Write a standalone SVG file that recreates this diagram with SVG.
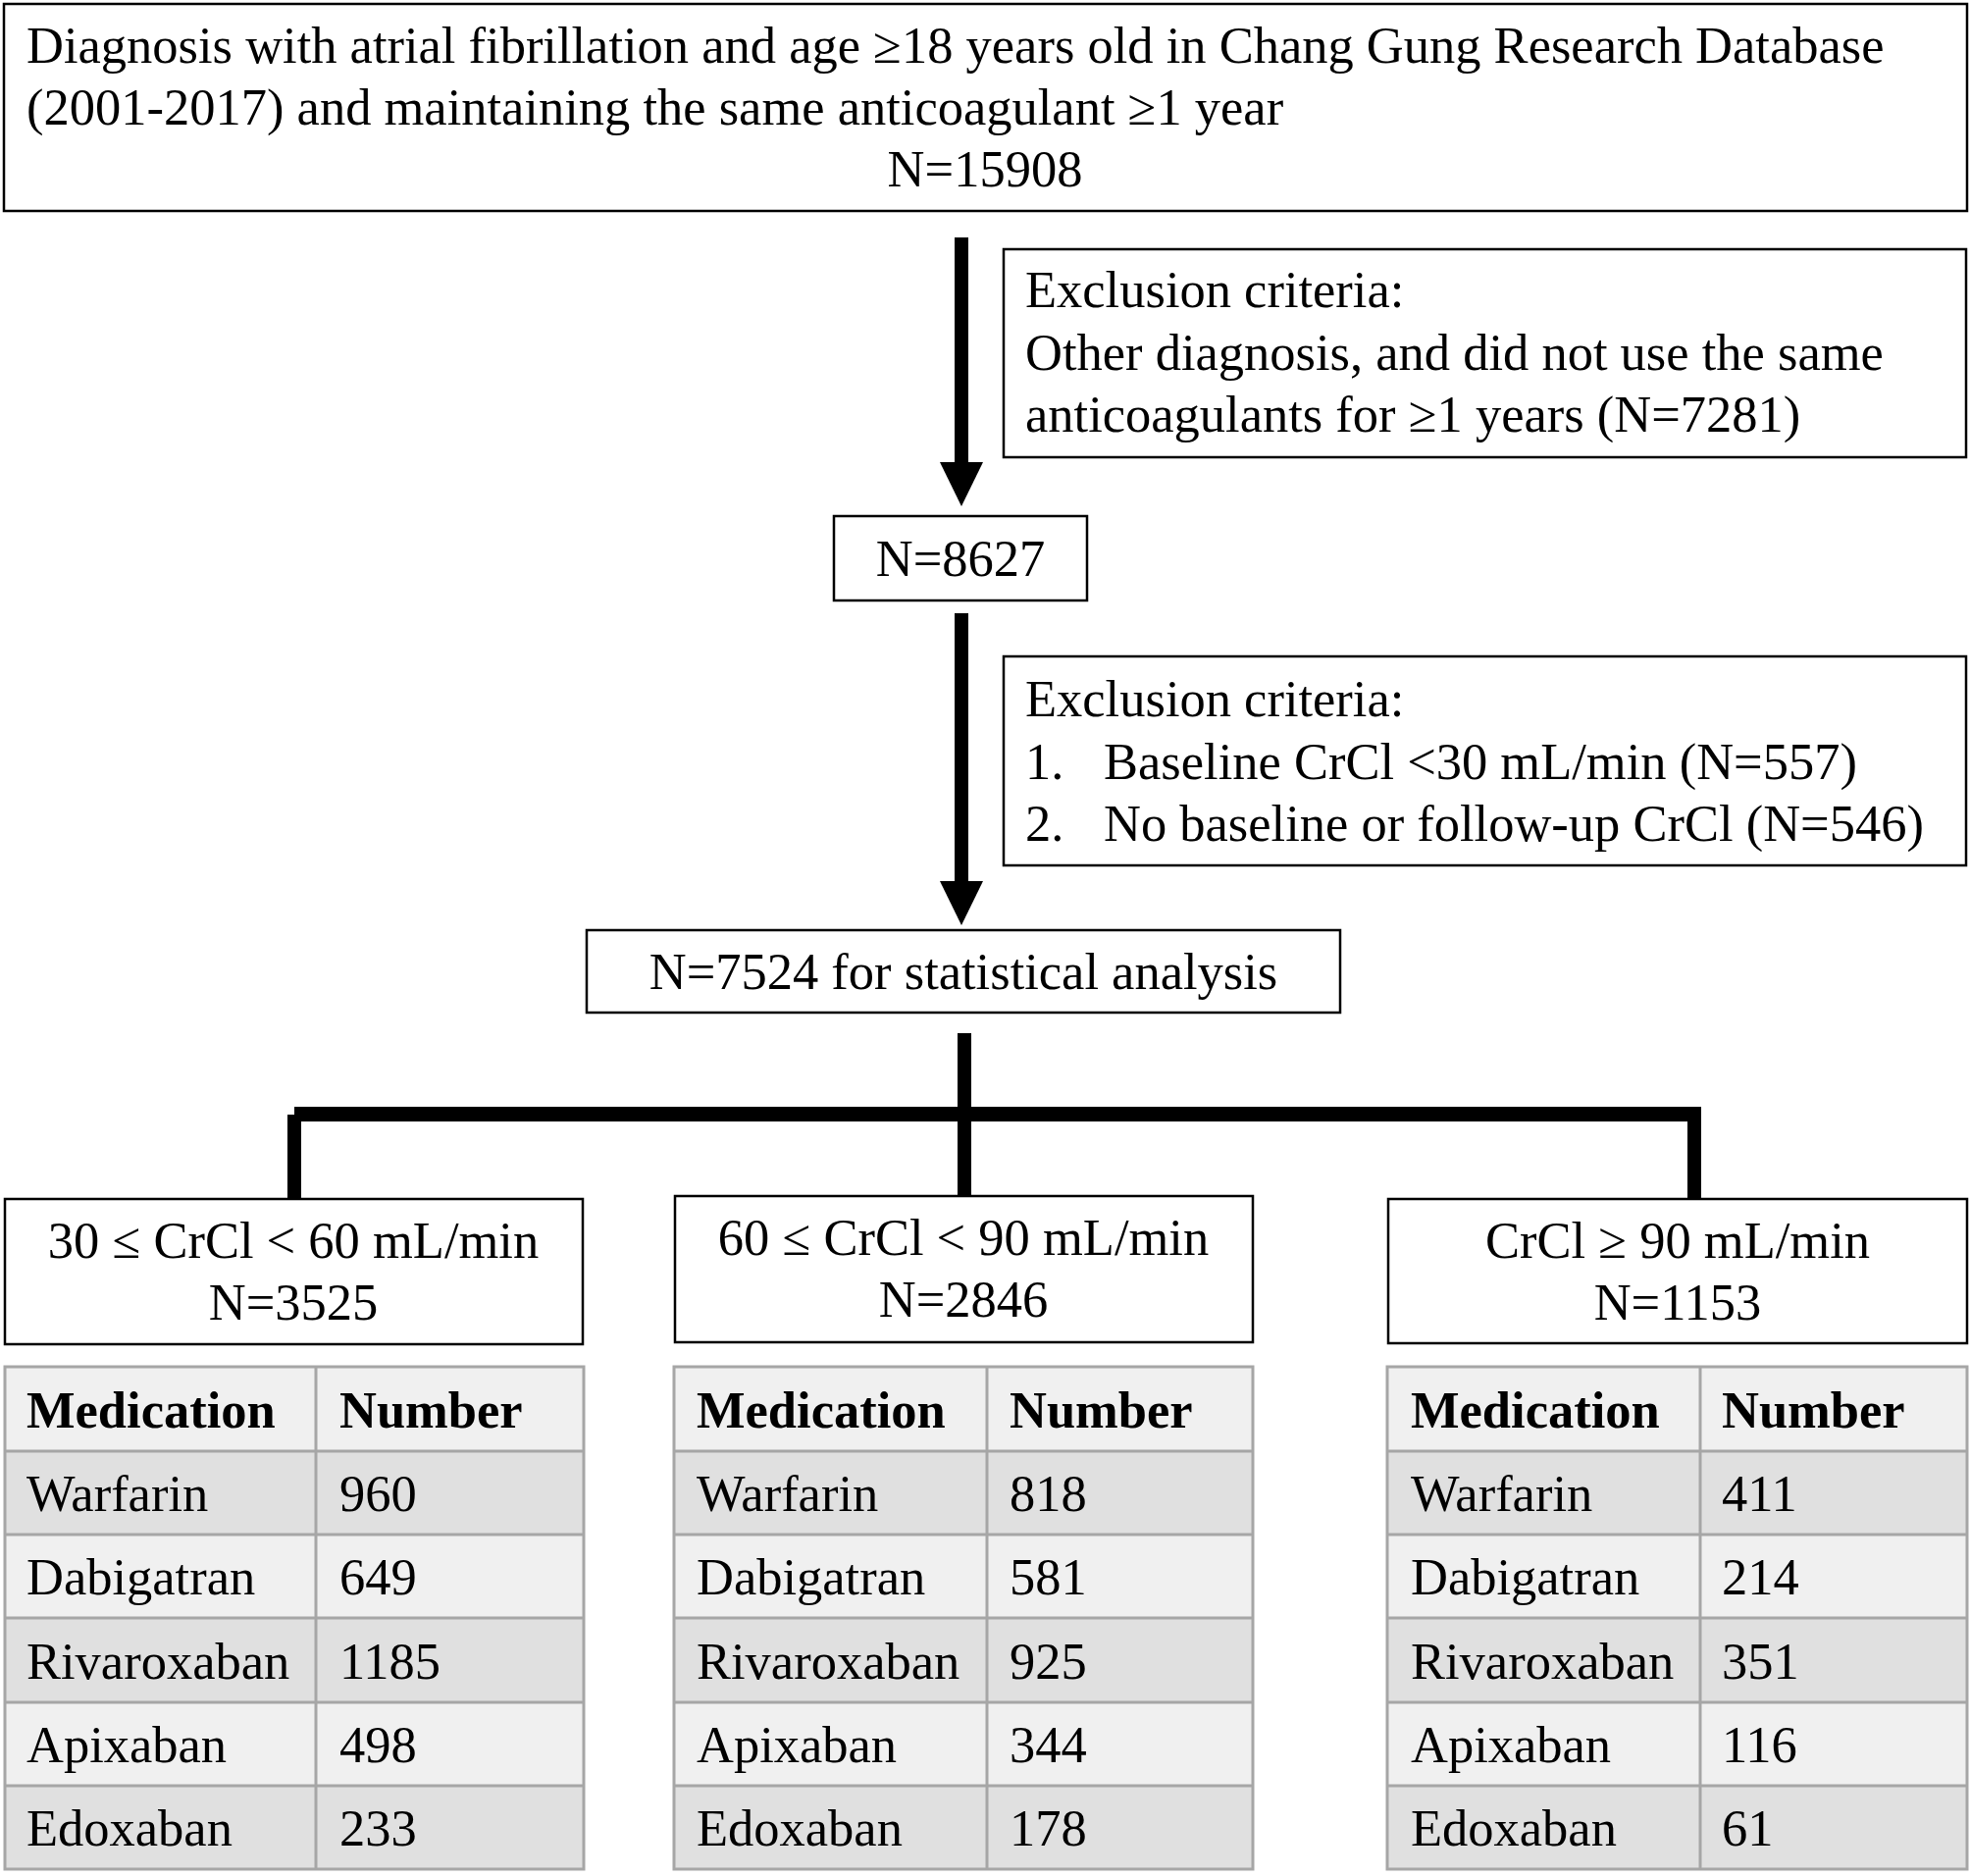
<svg xmlns="http://www.w3.org/2000/svg" width="2008" height="1912" viewBox="0 0 2008 1912">
<style>
text{font-family:"Liberation Serif","Times New Roman",serif;font-size:52.5px;fill:#000}
.box{fill:#fff;stroke:#000;stroke-width:2.5}
.mid{text-anchor:middle}
.b{font-weight:bold}
.hd{fill:#f0f0f0}
.lt{fill:#f0f0f0}
.dk{fill:#e0e0e0}
.grid{stroke:#a6a6a6;stroke-width:3;fill:none}
.conn{fill:#000}
</style>
<rect width="2008" height="1912" fill="#fff"/>
<g id="connectors">
<rect class="conn" x="973" y="242" width="14" height="232"/>
<polygon class="conn" points="958,471 1002,471 980,516"/>
<rect class="conn" x="973" y="625" width="14" height="276"/>
<polygon class="conn" points="958,898 1002,898 980,943"/>
<rect class="conn" x="976" y="1053" width="14" height="167"/>
<rect class="conn" x="300" y="1128" width="1434" height="15"/>
<rect class="conn" x="293" y="1136" width="14" height="86"/>
<rect class="conn" x="1720" y="1135" width="14" height="87"/>
</g>
<g id="start">
<rect class="box" x="4" y="4" width="2001" height="211"/>
<text x="27" y="64">Diagnosis with atrial fibrillation and age ≥18 years old in Chang Gung Research Database</text>
<text x="27" y="127">(2001-2017) and maintaining the same anticoagulant ≥1 year</text>
<text class="mid" x="1004" y="190">N=15908</text>
</g>
<g id="excl1">
<rect class="box" x="1023" y="254" width="981" height="212"/>
<text x="1045" y="313">Exclusion criteria:</text>
<text x="1045" y="377">Other diagnosis, and did not use the same</text>
<text x="1045" y="440">anticoagulants for ≥1 years (N=7281)</text>
</g>
<g id="n8627">
<rect class="box" x="850" y="526" width="258" height="86"/>
<text class="mid" x="979" y="587">N=8627</text>
</g>
<g id="excl2">
<rect class="box" x="1023" y="669" width="981" height="213"/>
<text x="1045" y="730">Exclusion criteria:</text>
<text x="1045" y="794">1.</text>
<text x="1125" y="794">Baseline CrCl &lt;30 mL/min (N=557)</text>
<text x="1045" y="857">2.</text>
<text x="1125" y="857">No baseline or follow-up CrCl (N=546)</text>
</g>
<g id="n7524">
<rect class="box" x="598" y="948" width="768" height="84"/>
<text class="mid" x="982" y="1008">N=7524 for statistical analysis</text>
</g>
<g id="grp1">
<rect class="box" x="5" y="1222" width="589" height="148"/>
<text class="mid" x="299" y="1282">30 ≤ CrCl &lt; 60 mL/min</text>
<text class="mid" x="299" y="1345">N=3525</text>
</g>
<g id="grp2">
<rect class="box" x="688" y="1219" width="589" height="149"/>
<text class="mid" x="982" y="1279">60 ≤ CrCl &lt; 90 mL/min</text>
<text class="mid" x="982" y="1342">N=2846</text>
</g>
<g id="grp3">
<rect class="box" x="1415" y="1222" width="590" height="147"/>
<text class="mid" x="1710" y="1282">CrCl ≥ 90 mL/min</text>
<text class="mid" x="1710" y="1345">N=1153</text>
</g>
<g id="table1">
<rect class="hd" x="5" y="1393" width="590" height="86"/>
<rect class="dk" x="5" y="1479" width="590" height="85"/>
<rect class="lt" x="5" y="1564" width="590" height="85"/>
<rect class="dk" x="5" y="1649" width="590" height="86"/>
<rect class="lt" x="5" y="1735" width="590" height="85"/>
<rect class="dk" x="5" y="1820" width="590" height="85"/>
<path class="grid" d="M5,1393H595V1905H5Z M322,1393V1905 M5,1479H595 M5,1564H595 M5,1649H595 M5,1735H595 M5,1820H595"/>
<text class="b" x="27" y="1455">Medication</text><text class="b" x="346" y="1455">Number</text>
<text x="27" y="1540">Warfarin</text><text x="346" y="1540">960</text>
<text x="27" y="1625">Dabigatran</text><text x="346" y="1625">649</text>
<text x="27" y="1711">Rivaroxaban</text><text x="346" y="1711">1185</text>
<text x="27" y="1796">Apixaban</text><text x="346" y="1796">498</text>
<text x="27" y="1881">Edoxaban</text><text x="346" y="1881">233</text>
</g>
<g id="table2">
<rect class="hd" x="687" y="1393" width="590" height="86"/>
<rect class="dk" x="687" y="1479" width="590" height="85"/>
<rect class="lt" x="687" y="1564" width="590" height="85"/>
<rect class="dk" x="687" y="1649" width="590" height="86"/>
<rect class="lt" x="687" y="1735" width="590" height="85"/>
<rect class="dk" x="687" y="1820" width="590" height="85"/>
<path class="grid" d="M687,1393H1277V1905H687Z M1006,1393V1905 M687,1479H1277 M687,1564H1277 M687,1649H1277 M687,1735H1277 M687,1820H1277"/>
<text class="b" x="710" y="1455">Medication</text><text class="b" x="1029" y="1455">Number</text>
<text x="710" y="1540">Warfarin</text><text x="1029" y="1540">818</text>
<text x="710" y="1625">Dabigatran</text><text x="1029" y="1625">581</text>
<text x="710" y="1711">Rivaroxaban</text><text x="1029" y="1711">925</text>
<text x="710" y="1796">Apixaban</text><text x="1029" y="1796">344</text>
<text x="710" y="1881">Edoxaban</text><text x="1029" y="1881">178</text>
</g>
<g id="table3">
<rect class="hd" x="1414" y="1393" width="591" height="86"/>
<rect class="dk" x="1414" y="1479" width="591" height="85"/>
<rect class="lt" x="1414" y="1564" width="591" height="85"/>
<rect class="dk" x="1414" y="1649" width="591" height="86"/>
<rect class="lt" x="1414" y="1735" width="591" height="85"/>
<rect class="dk" x="1414" y="1820" width="591" height="85"/>
<path class="grid" d="M1414,1393H2005V1905H1414Z M1733,1393V1905 M1414,1479H2005 M1414,1564H2005 M1414,1649H2005 M1414,1735H2005 M1414,1820H2005"/>
<text class="b" x="1438" y="1455">Medication</text><text class="b" x="1755" y="1455">Number</text>
<text x="1438" y="1540">Warfarin</text><text x="1755" y="1540">411</text>
<text x="1438" y="1625">Dabigatran</text><text x="1755" y="1625">214</text>
<text x="1438" y="1711">Rivaroxaban</text><text x="1755" y="1711">351</text>
<text x="1438" y="1796">Apixaban</text><text x="1755" y="1796">116</text>
<text x="1438" y="1881">Edoxaban</text><text x="1755" y="1881">61</text>
</g>
</svg>
